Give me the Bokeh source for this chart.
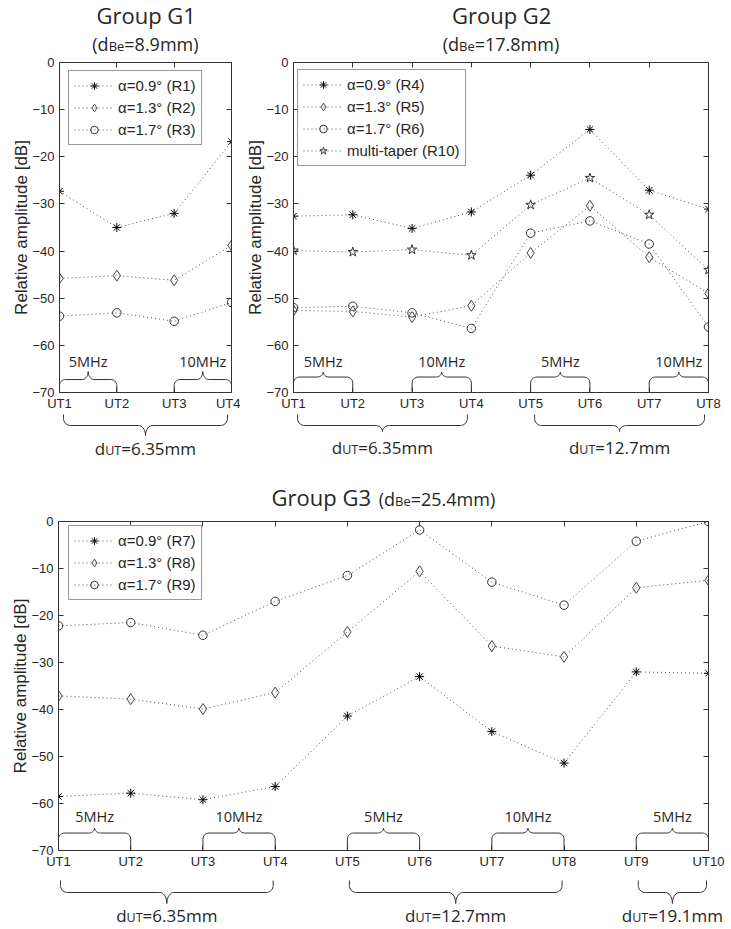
import numpy as np
from bokeh.plotting import figure
from bokeh.models import Range1d, LinearAxis, FixedTicker, Legend, LegendItem
from bokeh.layouts import column, row
from bokeh.core.properties import value
from bokeh.embed import file_html
from bokeh.resources import INLINE

# ---------------- data ----------------
g1_cats = ["UT1", "UT2", "UT3", "UT4"]
g1_r1 = [-27.3, -35.0, -32.0, -16.8]
g1_r2 = [-45.8, -45.2, -46.2, -38.8]
g1_r3 = [-53.8, -53.1, -54.9, -50.9]
g1_names = ["α=0.9° (R1)", "α=1.3° (R2)", "α=1.7° (R3)"]

g2_cats = ["UT1", "UT2", "UT3", "UT4", "UT5", "UT6", "UT7", "UT8"]
g2_r4 = [-32.6, -32.3, -35.2, -31.7, -23.9, -14.2, -27.1, -31.1]
g2_r5 = [-52.6, -52.8, -54.0, -51.6, -40.4, -30.4, -41.3, -49.0]
g2_r6 = [-52.0, -51.7, -53.1, -56.4, -36.2, -33.6, -38.5, -56.1]
g2_r10 = [-39.9, -40.2, -39.7, -40.9, -30.2, -24.5, -32.3, -44.0]
g2_names = ["α=0.9° (R4)", "α=1.3° (R5)", "α=1.7° (R6)", "multi-taper (R10)"]

g3_cats = ["UT1", "UT2", "UT3", "UT4", "UT5", "UT6", "UT7", "UT8", "UT9", "UT10"]
g3_r7 = [-58.5, -57.8, -59.2, -56.4, -41.4, -33.0, -44.7, -51.4, -32.0, -32.3]
g3_r8 = [-37.1, -37.8, -39.9, -36.4, -23.5, -10.6, -26.5, -28.8, -14.1, -12.5]
g3_r9 = [-22.2, -21.5, -24.2, -17.0, -11.5, -1.8, -12.9, -17.8, -4.2, 0.0]
g3_names = ["α=0.9° (R7)", "α=1.3° (R8)", "α=1.7° (R9)"]

y_ticks = [-70, -60, -50, -40, -30, -20, -10, 0]
y_label = "Relative amplitude [dB]"

g1_title, g1_dbe = "Group G1", "=8.9mm)"
g2_title, g2_dbe = "Group G2", "=17.8mm)"
g3_title, g3_dbe = "Group G3", "=25.4mm)"

g1_freq = [("5MHz", 1, 2), ("10MHz", 3, 4)]
g2_freq = [("5MHz", 1, 2), ("10MHz", 3, 4), ("5MHz", 5, 6), ("10MHz", 7, 8)]
g3_freq = [("5MHz", 1, 2), ("10MHz", 3, 4), ("5MHz", 5, 6), ("10MHz", 7, 8), ("5MHz", 9, 10)]
g1_dist = [("=6.35mm", 1, 4)]
g2_dist = [("=6.35mm", 1, 4), ("=12.7mm", 5, 8)]
g3_dist = [("=6.35mm", 1, 4), ("=12.7mm", 5, 8), ("=19.1mm", 9, 10)]

# ---------------- style ----------------
TXT = "#262626"
AX = "#333333"
LINE = "#4d4d4d"
TFONT = "Liberation Sans"
OFONT = "Open Sans"
BASE_K = 0.40  # baseline correction factor (fraction of font size)
MARKERS = [("asterisk", 9, "#000000"), ("diamond", 11, "#444444"),
           ("circle", 8.5, "#333333"), ("star", 10, "#333333")]

OSW = {' ': 0.26, '(': 0.296, ')': 0.296, '=': 0.571, '.': 0.266, 'd': 0.613, 'm': 0.929,
       'B': 0.642, 'e': 0.561, 'U': 0.729, 'T': 0.551, 'G': 0.696, 'r': 0.408, 'o': 0.602,
       'u': 0.613, 'p': 0.613, 'M': 0.881, 'H': 0.738, 'z': 0.477}
for _c in "0123456789":
    OSW[_c] = 0.571


def tw(s, fs):
    return sum(OSW.get(c, 0.57) for c in s) * fs


def rich(f, x, base, parts):
    """Draw mixed-size text with a common baseline `base` (pixels, y grows downwards)."""
    total = sum(tw(p[0], p[1]) if isinstance(p, tuple) else p for p in parts)
    off = -total / 2.0
    for p in parts:
        if not isinstance(p, tuple):
            off += p
            continue
        t, s = p
        y = base - BASE_K * s
        f.text(x=[x], y=[y], text=[t], text_font=value(OFONT), text_font_size=f"{s}px",
               text_color=TXT, text_align="left", text_baseline="alphabetic", x_offset=off)
        off += tw(t, s)


def brace_px(xa, xb, d0, d1, d2, rx=6.0, rc=6.0, rtx=6.0, m=10):
    xm = (xa + xb) / 2.0
    t = np.linspace(0, np.pi / 2, m)
    rc = min(rc, d1 - d0)
    X = [xa]
    D = [d0]
    X += list(xa + rx * (1 - np.cos(t)))
    D += list(d1 - rc + rc * np.sin(t))
    X += list(xm - rtx + rtx * np.sin(t))
    D += list(d1 + (d2 - d1) * (1 - np.cos(t)))
    X = np.array(X)
    D = np.array(D)
    Xr = (xa + xb) - X[::-1]
    Dr = D[::-1]
    return np.concatenate([X, Xr[1:]]), np.concatenate([D, Dr[1:]])


def plain_fig(W, H, n, L, R, u):
    return figure(width=W, height=H, x_range=Range1d(1 - L / u, n + R / u), y_range=Range1d(H, 0),
                  x_axis_type=None, y_axis_type=None, output_backend="svg", toolbar_location=None,
                  min_border=0, min_border_left=0, min_border_right=0, min_border_top=0,
                  min_border_bottom=0, outline_line_color=None, frame_align=False)


def axis(ticks, show, standoff=5, overrides=None, label=None):
    ax = LinearAxis(ticker=FixedTicker(ticks=ticks), axis_line_color=AX, axis_line_width=1,
                    major_tick_in=5, major_tick_out=0, major_tick_line_color=AX,
                    minor_tick_line_color=None, major_label_text_font=TFONT)
    if show:
        ax.major_label_text_font_size = "13px"
        ax.major_label_text_color = TXT
        ax.major_label_standoff = standoff
    else:
        ax.major_label_text_font_size = "1px"
        ax.major_label_text_color = None
        ax.major_label_standoff = 0
    if overrides:
        ax.major_label_overrides = overrides
    if label:
        ax.axis_label = label
        ax.axis_label_text_font = TFONT
        ax.axis_label_text_font_size = "17px"
        ax.axis_label_text_font_style = "normal"
        ax.axis_label_text_color = TXT
        ax.axis_label_standoff = -2
    return ax


def group(cats, series, names, title, dbe, freq, dist, W, L, R, FH, head_h, brace_h,
          legend_xy, fb, bb, inline_title, inset):
    n = len(cats)
    u = (W - L - R) / (n - 1)
    k = 70.0 / FH
    xs = list(range(1, n + 1))

    # header
    h = plain_fig(W, head_h, n, L, R, u)
    xmid = (1 + n) / 2.0
    if inline_title:
        rich(h, xmid, 35.5, [(title, 22), 9, ("(d", 18), ("Be", 13), (dbe, 18)])
    else:
        rich(h, xmid, 23.3, [(title, 22)])
        rich(h, xmid, 50.5, [("(d", 18), ("Be", 13), (dbe, 18)])

    # main plot
    top, bottom = 6, 20
    p = figure(width=W, height=FH + top + bottom, x_range=Range1d(1, n), y_range=Range1d(-70, 0),
               x_axis_type=None, y_axis_type=None, output_backend="svg", toolbar_location=None,
               min_border_left=L, min_border_right=R, min_border_top=top, min_border_bottom=bottom,
               outline_line_color=None, background_fill_color="white", border_fill_color="white",
               frame_align=False)
    p.add_layout(axis(y_ticks, True, 5, label=y_label), "left")
    p.add_layout(axis(y_ticks, False), "right")
    p.add_layout(axis(xs, True, 3, overrides={i + 1: c for i, c in enumerate(cats)}), "below")
    p.add_layout(axis(xs, False), "above")

    items = []
    for i, (vals, nm) in enumerate(zip(series, names)):
        mk, sz, mc = MARKERS[i]
        lr = p.line(xs, vals, line_color=LINE, line_width=1, line_dash="1 3")
        sr = p.scatter(xs, vals, marker=mk, size=sz, line_color=mc, fill_color=None, line_width=1)
        items.append(LegendItem(label=nm, renderers=[lr, sr]))

    # frequency braces inside the plot
    h1, h2, tb = fb
    for lab, a, b in freq:
        X, D = brace_px((a - 1) * u, (b - 1) * u, 0, h1, h2, rx=6, rc=6, rtx=6)
        p.line(1 + X / u, -70 + D * k, line_color=AX, line_width=1)
        p.text(x=[(a + b) / 2.0], y=[-70 + (tb + BASE_K * 14.5) * k], text=[lab],
               text_font=value(OFONT), text_font_size="14.5px", text_color=TXT,
               text_align="center", text_baseline="alphabetic")

    leg = Legend(items=items, location=legend_xy, orientation="vertical",
                 label_text_font=TFONT, label_text_font_size="15px", label_text_color=TXT,
                 glyph_width=40, glyph_height=19, label_height=19, spacing=3, padding=5,
                 margin=0, label_standoff=4, border_line_color=AX, border_line_width=1,
                 background_fill_color="white", background_fill_alpha=1.0)
    p.add_layout(leg)

    # distance braces below
    bf = plain_fig(W, brace_h, n, L, R, u)
    d0, d1, d2, tbase = bb
    for lab, a, b in dist:
        X, D = brace_px((a - 1) * u + inset, (b - 1) * u - inset, d0, d1, d2, rx=7, rc=7, rtx=7)
        bf.line(1 + X / u, D, line_color=AX, line_width=1)
        rich(bf, (a + b) / 2.0, tbase, [("d", 17), ("UT", 12.5), (lab, 17)])

    return column(h, p, bf)


c1 = group(g1_cats, [g1_r1, g1_r2, g1_r3], g1_names, g1_title, g1_dbe, g1_freq, g1_dist,
           W=240, L=59, R=9, FH=331, head_h=56, brace_h=57, legend_xy=(9, 247),
           fb=(13, 21, 25), bb=(1, 12, 22, 42), inline_title=False, inset=4)
c2 = group(g2_cats, [g2_r4, g2_r5, g2_r6, g2_r10], g2_names, g2_title, g2_dbe, g2_freq, g2_dist,
           W=491, L=53, R=23, FH=331, head_h=56, brace_h=57, legend_xy=(4, 226),
           fb=(15.5, 20.5, 25), bb=(1, 12, 18, 41), inline_title=False, inset=4)
c3 = group(g3_cats, [g3_r7, g3_r8, g3_r9], g3_names, g3_title, g3_dbe, g3_freq, g3_dist,
           W=731, L=58, R=23, FH=330, head_h=45, brace_h=58, legend_xy=(10, 250),
           fb=(17.5, 22.5, 28.3), bb=(9, 21, 32, 50.5), inline_title=True, inset=2)

layout = column(row(c1, c2), c3)
open("out.html", "w").write(file_html(layout, INLINE))
